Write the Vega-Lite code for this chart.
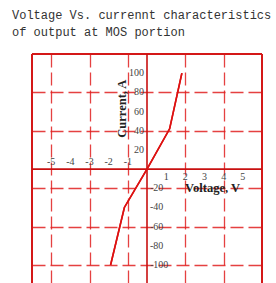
{
  "$schema": "https://vega.github.io/schema/vega-lite/v6.json",
  "width": 230,
  "height": 229,
  "autosize": {"type": "none"},
  "padding": {"left": 32, "top": 54, "right": 14, "bottom": 0},
  "background": "white",
  "config": {"view": {"stroke": null}},
  "title": {
    "text": ["Voltage Vs. currennt characteristics", "of output at MOS portion"],
    "anchor": "start",
    "frame": "group",
    "font": "Liberation Mono",
    "fontSize": 12,
    "fontWeight": "normal",
    "color": "#333333",
    "dx": -20,
    "offset": 14,
    "lineHeight": 17
  },
  "datasets": {
    "curve": [
      {"v": -1.9, "i": -100},
      {"v": -1.18, "i": -40},
      {"v": 0, "i": 0},
      {"v": 1.18, "i": 42},
      {"v": 1.82, "i": 100}
    ],
    "frameV": [{"v": -6}, {"v": 6}],
    "frameH": [{"i": 120}],
    "axV": [{"v": 0}],
    "axH": [{"i": 0}],
    "xlabNeg": [{"v": -5, "t": "-5"}, {"v": -4, "t": "-4"}, {"v": -3, "t": "-3"}, {"v": -2, "t": "-2"}, {"v": -1, "t": "-1"}],
    "xlabPos": [{"v": 1, "t": "1"}, {"v": 2, "t": "2"}, {"v": 3, "t": "3"}, {"v": 4, "t": "4"}, {"v": 5, "t": "5"}],
    "ylabPos": [{"i": 20, "t": "20"}, {"i": 40, "t": "40"}, {"i": 60, "t": "60"}, {"i": 80, "t": "80"}, {"i": 100, "t": "100"}],
    "ylabNeg": [{"i": -20, "t": "-20"}, {"i": -40, "t": "-40"}, {"i": -60, "t": "-60"}, {"i": -80, "t": "-80"}, {"i": -100, "t": "-100"}],
    "one": [{"k": 1}]
  },
  "layer": [
    {
      "data": {"name": "curve"},
      "mark": {"type": "line", "color": "#dd1111", "strokeWidth": 1.6},
      "encoding": {
        "x": {
          "field": "v", "type": "quantitative",
          "scale": {"domain": [-6, 6], "nice": false, "zero": false},
          "axis": {
            "values": [-5, -4, -3, -2, -1, 1, 2, 3, 4, 5],
            "grid": true, "gridColor": "#e02020", "gridDash": [13, 5], "gridWidth": 1.3, "gridOpacity": 0.85,
            "labels": false, "ticks": false, "domain": false, "title": null
          }
        },
        "y": {
          "field": "i", "type": "quantitative",
          "scale": {"domain": [-118.75, 120], "nice": false, "zero": false},
          "axis": {
            "values": [-100, -80, -60, -40, -20, 20, 40, 60, 80, 100],
            "grid": true, "gridColor": "#e02020", "gridDash": [13, 5], "gridWidth": 1.3, "gridOpacity": 0.85,
            "labels": false, "ticks": false, "domain": false, "title": null
          }
        }
      }
    },
    {
      "data": {"name": "frameV"},
      "mark": {"type": "rule", "color": "#d41818", "strokeWidth": 2},
      "encoding": {"x": {"field": "v", "type": "quantitative"}}
    },
    {
      "data": {"name": "frameH"},
      "mark": {"type": "rule", "color": "#d41818", "strokeWidth": 2},
      "encoding": {"y": {"field": "i", "type": "quantitative"}}
    },
    {
      "data": {"name": "axV"},
      "mark": {"type": "rule", "color": "#c81010", "strokeWidth": 1.6},
      "encoding": {"x": {"field": "v", "type": "quantitative"}}
    },
    {
      "data": {"name": "axH"},
      "mark": {"type": "rule", "color": "#c81010", "strokeWidth": 1.6},
      "encoding": {"y": {"field": "i", "type": "quantitative"}}
    },
    {
      "data": {"name": "curve"},
      "mark": {"type": "line", "color": "#dd1111", "strokeWidth": 1.6},
      "encoding": {
        "x": {"field": "v", "type": "quantitative"},
        "y": {"field": "i", "type": "quantitative"}
      }
    },
    {
      "data": {"name": "xlabNeg"},
      "mark": {"type": "text", "font": "Liberation Serif", "fontSize": 10, "color": "#444444", "align": "center", "baseline": "bottom", "dy": -2},
      "encoding": {
        "x": {"field": "v", "type": "quantitative"},
        "y": {"datum": 0, "type": "quantitative"},
        "text": {"field": "t"}
      }
    },
    {
      "data": {"name": "xlabPos"},
      "mark": {"type": "text", "font": "Liberation Serif", "fontSize": 10, "color": "#444444", "align": "center", "baseline": "top", "dy": 3},
      "encoding": {
        "x": {"field": "v", "type": "quantitative"},
        "y": {"datum": 0, "type": "quantitative"},
        "text": {"field": "t"}
      }
    },
    {
      "data": {"name": "ylabPos"},
      "mark": {"type": "text", "font": "Liberation Serif", "fontSize": 10, "color": "#444444", "align": "right", "baseline": "middle", "dx": -3},
      "encoding": {
        "x": {"datum": 0, "type": "quantitative"},
        "y": {"field": "i", "type": "quantitative"},
        "text": {"field": "t"}
      }
    },
    {
      "data": {"name": "ylabNeg"},
      "mark": {"type": "text", "font": "Liberation Serif", "fontSize": 10, "color": "#444444", "align": "left", "baseline": "middle", "dx": 3},
      "encoding": {
        "x": {"datum": 0, "type": "quantitative"},
        "y": {"field": "i", "type": "quantitative"},
        "text": {"field": "t"}
      }
    },
    {
      "data": {"name": "one"},
      "mark": {"type": "text", "text": "Current, A", "angle": 270, "font": "Liberation Serif", "fontSize": 12.5, "fontWeight": "bold", "color": "#222222", "align": "center", "baseline": "middle"},
      "encoding": {
        "x": {"datum": -1.3, "type": "quantitative"},
        "y": {"datum": 63, "type": "quantitative"}
      }
    },
    {
      "data": {"name": "one"},
      "mark": {"type": "text", "text": "Voltage, V", "font": "Liberation Serif", "fontSize": 12.5, "fontWeight": "bold", "color": "#222222", "align": "center", "baseline": "middle"},
      "encoding": {
        "x": {"datum": 3.42, "type": "quantitative"},
        "y": {"datum": -20, "type": "quantitative"}
      }
    }
  ]
}
